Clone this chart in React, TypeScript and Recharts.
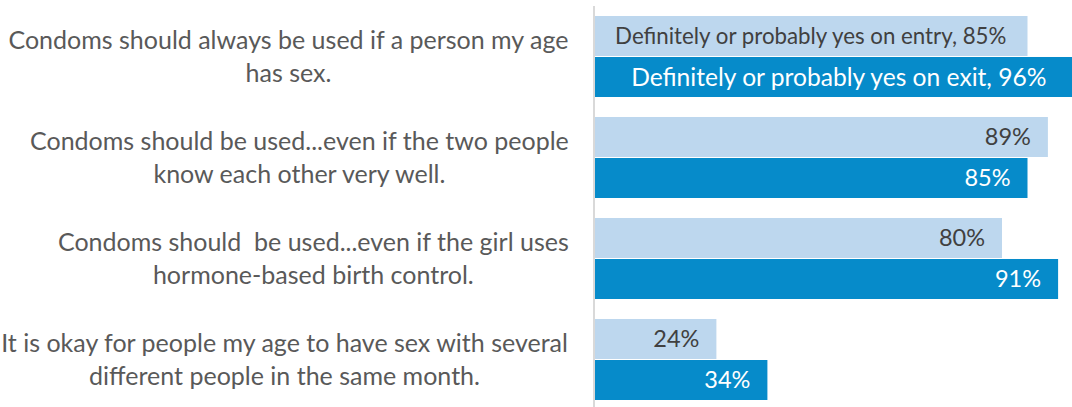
import React from 'react';
import { BarChart, Bar, XAxis, YAxis, LabelList } from 'recharts';

const categories = [
  'Condoms should always be used if a person my age\nhas sex.',
  'Condoms should be used...even if the two people\nknow each other very well.',
  'Condoms should  be used...even if the girl uses\nhormone-based birth control.',
  'It is okay for people my age to have sex with several\ndifferent people in the same month.',
];
const entryValues = [85, 89, 80, 24];
const exitValues = [96, 85, 91, 34];
const seriesNames = [
  'Definitely or probably yes on entry',
  'Definitely or probably yes on exit',
];

const data = categories.map((c, i) => ({
  category: c,
  entry: entryValues[i],
  exit: exitValues[i],
}));

const FONT = 'Lato, "Open Sans", sans-serif';
const TICK_SIZE = 25;
const LINE_H = 33;

let ctx: CanvasRenderingContext2D | null = null;
function measure(text: string, size: number): number {
  if (!ctx) {
    const c = document.createElement('canvas');
    ctx = c.getContext('2d');
  }
  if (!ctx) return text.length * size * 0.5;
  ctx.font = `${size}px Lato`;
  return ctx.measureText(text).width;
}

const CategoryTick = (props: any) => {
  const { x, y, payload } = props;
  const lines = String(payload.value).split('\n');
  const blockW = Math.max(...lines.map((l) => measure(l, TICK_SIZE)));
  const right = x - 25;
  const cx = right - blockW / 2;
  const startY = y - ((lines.length - 1) * LINE_H) / 2;
  return (
    <text
      x={cx}
      y={startY}
      textAnchor="middle"
      fill="#595959"
      fontSize={TICK_SIZE}
      fontFamily={FONT}
      style={{ whiteSpace: 'pre' }}
    >
      {lines.map((l, i) => (
        <tspan key={i} x={cx} y={startY + i * LINE_H} dy="0.35em">
          {l}
        </tspan>
      ))}
    </text>
  );
};

const makeLabel = (seriesIdx: number) => (props: any) => {
  const { x, y, width, height, value, index } = props;
  const isFirst = index === 0;
  const text = isFirst ? `${seriesNames[seriesIdx]}, ${value}%` : `${value}%`;
  const tx = isFirst ? x + width / 2 : x + width - 17;
  const anchor = isFirst ? 'middle' : 'end';
  const fill = seriesIdx === 0 ? '#404040' : '#FFFFFF';
  const size = isFirst ? (seriesIdx === 0 ? 22.3 : 24.6) : 23.5;
  return (
    <text
      x={tx}
      y={y + height / 2}
      dy="0.35em"
      textAnchor={anchor}
      fill={fill}
      fontSize={size}
      fontFamily={FONT}
    >
      {text}
    </text>
  );
};

export default function App() {
  return (
    <div
      style={{
        position: 'absolute',
        left: 0,
        top: 0,
        width: 1072,
        height: 407,
        overflow: 'hidden',
        background: '#ffffff',
      }}
    >
      <BarChart
        width={1104}
        height={410}
        data={data}
        layout="vertical"
        margin={{ top: 6, right: 0, bottom: 0, left: 0 }}
        barGap={1}
        barSize={40}
      >
        <XAxis type="number" domain={[0, 100]} hide />
        <YAxis
          type="category"
          dataKey="category"
          width={594}
          axisLine={{ stroke: '#D9D9D9', strokeWidth: 2 }}
          tickLine={false}
          tickSize={0}
          tickMargin={0}
          tick={<CategoryTick />}
          interval={0}
        />
        <Bar dataKey="entry" fill="#BDD7EE" isAnimationActive={false}>
          <LabelList dataKey="entry" content={makeLabel(0)} />
        </Bar>
        <Bar dataKey="exit" fill="#068BCA" isAnimationActive={false}>
          <LabelList dataKey="exit" content={makeLabel(1)} />
        </Bar>
      </BarChart>
    </div>
  );
}
